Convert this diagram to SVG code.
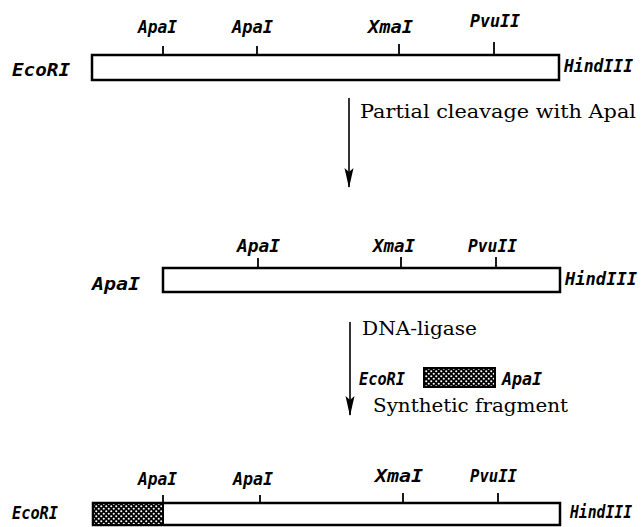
<svg xmlns="http://www.w3.org/2000/svg" width="642" height="527" viewBox="0 0 642 527">
<style>
.box{fill:#fff;stroke:#000;stroke-width:2.5}
.tick{stroke:#000;stroke-width:1.8}
.lab{font-family:"DejaVu Sans Mono","Liberation Mono",monospace;font-style:italic;font-weight:bold;font-size:17px;fill:#000}
.ser{font-family:"DejaVu Serif","Liberation Serif",serif;font-size:19px;fill:#000}
.arr{stroke:#000;stroke-width:1.6;fill:none}
</style>
<defs>
<pattern id="hatch" width="5" height="5" patternUnits="userSpaceOnUse">
<rect width="5" height="5" fill="#000"/>
<circle cx="1.25" cy="1.25" r="1.05" fill="#fff"/>
<circle cx="3.75" cy="3.75" r="1.05" fill="#fff"/>
</pattern>
<marker id="ah" markerWidth="20" markerHeight="10" refX="19" refY="5" orient="auto" markerUnits="userSpaceOnUse" viewBox="0 0 20 10">
<path d="M0,0.5 L20,5 L0,9.5 L4,5 Z" fill="#000"/>
</marker>
</defs>

<g id="construct1">
<rect class="box" x="92" y="55" width="467" height="25"/>
<line class="tick" x1="163" y1="46" x2="163" y2="55"/>
<line class="tick" x1="257" y1="46" x2="257" y2="55"/>
<line class="tick" x1="399" y1="44" x2="399" y2="55"/>
<line class="tick" x1="494" y1="42" x2="494" y2="55"/>
<text class="lab" x="138" y="33" textLength="39" lengthAdjust="spacingAndGlyphs">ApaI</text>
<text class="lab" x="232" y="33" textLength="41" lengthAdjust="spacingAndGlyphs">ApaI</text>
<text class="lab" x="368" y="33" textLength="45" lengthAdjust="spacingAndGlyphs">XmaI</text>
<text class="lab" x="470" y="27" textLength="50" lengthAdjust="spacingAndGlyphs">PvuII</text>
<text class="lab" x="12" y="76" textLength="58" lengthAdjust="spacingAndGlyphs">EcoRI</text>
<text class="lab" x="564" y="72" textLength="69" lengthAdjust="spacingAndGlyphs">HindIII</text>
</g>

<g id="construct2">
<rect class="box" x="163" y="268" width="397" height="24"/>
<line class="tick" x1="258" y1="258" x2="258" y2="268"/>
<line class="tick" x1="401" y1="257" x2="401" y2="268"/>
<line class="tick" x1="496" y1="257" x2="496" y2="268"/>
<text class="lab" x="237" y="252" textLength="43" lengthAdjust="spacingAndGlyphs">ApaI</text>
<text class="lab" x="373" y="252" textLength="42" lengthAdjust="spacingAndGlyphs">XmaI</text>
<text class="lab" x="468" y="252" textLength="49" lengthAdjust="spacingAndGlyphs">PvuII</text>
<text class="lab" x="92" y="290" textLength="48" lengthAdjust="spacingAndGlyphs">ApaI</text>
<text class="lab" x="565" y="285" textLength="72" lengthAdjust="spacingAndGlyphs">HindIII</text>
</g>

<g id="fragment">
<rect x="424" y="368" width="71" height="19" fill="url(#hatch)" stroke="#000" stroke-width="2"/>
<text class="lab" x="359" y="385" textLength="46" lengthAdjust="spacingAndGlyphs">EcoRI</text>
<text class="lab" x="502" y="385" textLength="40" lengthAdjust="spacingAndGlyphs">ApaI</text>
<text class="ser" x="373" y="412" textLength="195" lengthAdjust="spacingAndGlyphs">Synthetic fragment</text>
</g>

<g id="construct3">
<rect class="box" x="93" y="503" width="467" height="22"/>
<rect x="93" y="503" width="70" height="22" fill="url(#hatch)" stroke="#000" stroke-width="2"/>
<line class="tick" x1="163" y1="495" x2="163" y2="503"/>
<line class="tick" x1="260" y1="495" x2="260" y2="503"/>
<line class="tick" x1="403" y1="493" x2="403" y2="503"/>
<line class="tick" x1="498" y1="493" x2="498" y2="503"/>
<text class="lab" x="138" y="485" textLength="39" lengthAdjust="spacingAndGlyphs">ApaI</text>
<text class="lab" x="233" y="485" textLength="40" lengthAdjust="spacingAndGlyphs">ApaI</text>
<text class="lab" x="375" y="482" textLength="48" lengthAdjust="spacingAndGlyphs">XmaI</text>
<text class="lab" x="470" y="482" textLength="47" lengthAdjust="spacingAndGlyphs">PvuII</text>
<text class="lab" x="12" y="519" textLength="46" lengthAdjust="spacingAndGlyphs">EcoRI</text>
<text class="lab" x="570" y="518" textLength="62" lengthAdjust="spacingAndGlyphs">HindIII</text>
</g>

<g id="connectors">
<line class="arr" x1="349" y1="98" x2="349" y2="187" marker-end="url(#ah)"/>
<text class="ser" x="360" y="118" textLength="276" lengthAdjust="spacingAndGlyphs">Partial cleavage with Apal</text>
<line class="arr" x1="350" y1="322" x2="350" y2="415" marker-end="url(#ah)"/>
<text class="ser" x="362" y="335" textLength="115" lengthAdjust="spacingAndGlyphs">DNA-ligase</text>
</g>
</svg>
